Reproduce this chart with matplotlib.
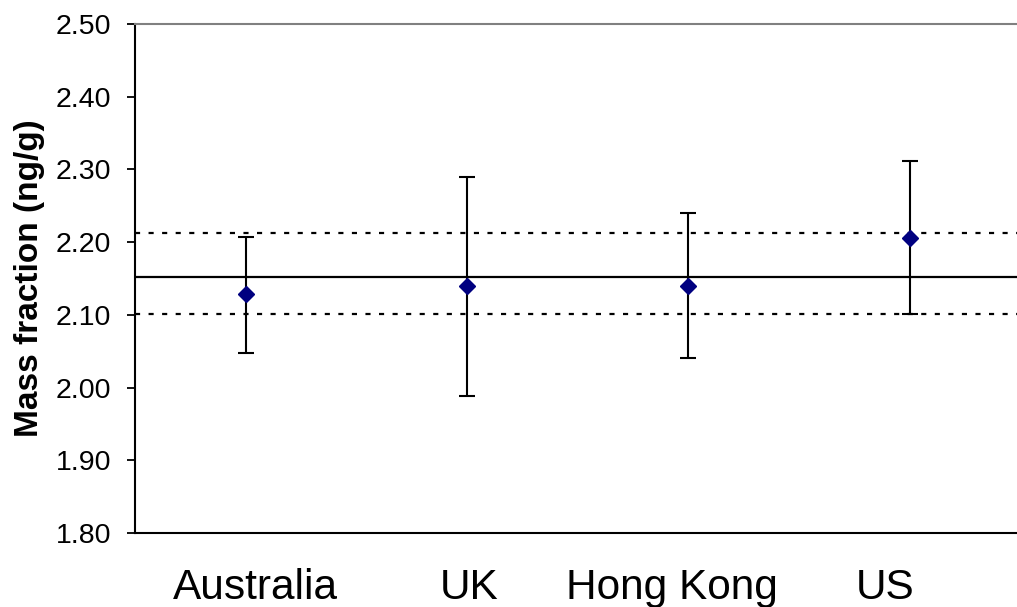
import numpy as np
import matplotlib.pyplot as plt

plt.rcParams['font.family'] = ['Liberation Sans', 'DejaVu Sans']

# mass fraction per lab, with lower/upper limits of the uncertainty
labs = ['Australia', 'UK', 'Hong Kong', 'US']
mass = [2.129, 2.139, 2.139, 2.206]
lower = [2.047, 1.988, 2.041, 2.101]
upper = [2.207, 2.290, 2.240, 2.311]

# consensus value and its band
ref_value = 2.152
ref_band = [2.101, 2.2125]

yticks = [1.80, 1.90, 2.00, 2.10, 2.20, 2.30, 2.40, 2.50]

fig = plt.figure(figsize=(10.17, 6.07), dpi=100)
ax = fig.add_axes([0.1327, 0.1219, 0.8673, 0.8386])

x = np.arange(len(labs)) + 0.5
mass = np.array(mass)
yerr = [mass - np.array(lower), np.array(upper) - mass]

ax.axhline(ref_value, color='black', lw=1.6, zorder=1)
for y in ref_band:
    ax.axhline(y, color='black', lw=1.6, linestyle=(0, (2.3, 3.8)), zorder=1)

ax.errorbar(x, mass, yerr=yerr, fmt='D', color='#000080', ms=8.5,
            ecolor='black', elinewidth=1.5, capsize=5.5, capthick=1.5, zorder=3)

ax.set_xlim(0, 3.985)
ax.set_ylim(1.80, 2.50)
ax.set_yticks(yticks)
ax.set_yticklabels(['%.2f' % t for t in yticks], fontsize=20.5)
ax.tick_params(axis='y', direction='out', length=6, width=1.3, pad=11)
ax.set_xticks([])

# category names sit a little off the point positions
label_shift = [0.045, 0.01, -0.075, -0.11]
for xi, name, dx in zip(x, labs, label_shift):
    ax.text(xi + dx, -0.068, name, transform=ax.get_xaxis_transform(),
            ha='center', va='top', fontsize=30.5)

ax.set_ylabel('Mass fraction (ng/g)', fontsize=24, fontweight='bold', labelpad=8)

ax.spines['right'].set_visible(False)
ax.spines['top'].set_color('#808080')
ax.spines['top'].set_linewidth(1.5)
ax.spines['left'].set_linewidth(1.5)
ax.spines['bottom'].set_linewidth(1.5)

fig.savefig('out.png', dpi=100)
